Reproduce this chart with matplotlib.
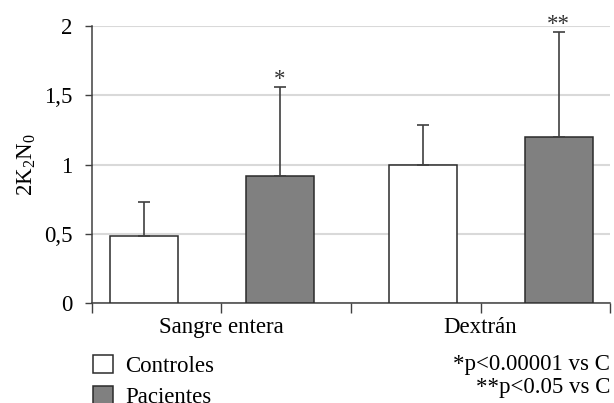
import numpy as np
import matplotlib.pyplot as plt
from matplotlib.patches import Patch

plt.rcParams['font.family'] = 'serif'
plt.rcParams['font.serif'] = ['Liberation Serif', 'DejaVu Serif']
plt.rcParams['mathtext.fontset'] = 'custom'
plt.rcParams['mathtext.rm'] = 'Liberation Serif'
plt.rcParams['mathtext.it'] = 'Liberation Serif'

# data
categories = ['Sangre entera', 'Dextrán']
series = ['Controles', 'Pacientes']
controles = [0.485, 1.0]
controles_err = [0.243, 0.287]
pacientes = [0.917, 1.198]
pacientes_err = [0.640, 0.757]
signif = ['*', '**']
notes = ['*p<0.00001 vs C', '**p<0.05 vs C']
yticks = [0, 0.5, 1, 1.5, 2]
ytick_labels = ['0', '0,5', '1', '1,5', '2']

fs = 16.5

fig = plt.figure(figsize=(6.14, 4.03), dpi=100)
ax = fig.add_axes([0.1498, 0.2474, 0.8437, 0.6888])

x = np.arange(len(categories))
w = 0.2435
edge = '#2b2b2b'
gray = '#808080'

ax.bar(x - w, controles, w, color='white', edgecolor=edge, linewidth=1.1, zorder=3)
ax.bar(x + w, pacientes, w, color=gray, edgecolor=edge, linewidth=1.1, zorder=3)
ax.errorbar(x - w, controles, yerr=[np.zeros(len(x)), controles_err], fmt='none',
            ecolor='#404040', elinewidth=1.2, capsize=4.3, capthick=1.2, zorder=4)
ax.errorbar(x + w, pacientes, yerr=[np.zeros(len(x)), pacientes_err], fmt='none',
            ecolor='#404040', elinewidth=1.2, capsize=4.3, capthick=1.2, zorder=4)

for xi, v, e, s in zip(x + w, pacientes, pacientes_err, signif):
    ax.annotate(s, (xi, v + e), xytext=(0, -2), textcoords='offset points',
                ha='center', va='bottom', fontsize=fs, color='#333333')

xmin, xmax = -0.4285, 1.4274
ax.set_xlim(xmin, xmax)
ax.set_ylim(0, 2)

ticks = np.linspace(xmin, xmax, 5)
ax.set_xticks(ticks)
ax.set_xticklabels(['', categories[0], '', categories[1], ''])
ax.tick_params(axis='x', direction='out', length=7, width=1, color='#404040', pad=3, labelsize=fs)

ax.set_yticks(yticks)
ax.set_yticklabels(ytick_labels)
ax.tick_params(axis='y', direction='out', length=5, width=1, color='#404040', pad=9, labelsize=fs)

ax.grid(axis='y', color='#d9d9d9', linewidth=1.5, zorder=0)
ax.set_axisbelow(True)
for sp in ['top', 'right']:
    ax.spines[sp].set_visible(False)
ax.spines['left'].set_color('#404040')
ax.spines['bottom'].set_color('#404040')
ax.spines['left'].set_linewidth(1.1)
ax.spines['bottom'].set_linewidth(1.1)

ax.set_ylabel('2K$_2$N$_0$', fontsize=fs, labelpad=4)

handles = [Patch(facecolor='white', edgecolor=edge, linewidth=1.1),
           Patch(facecolor=gray, edgecolor=edge, linewidth=1.1)]
fig.legend(handles, series, loc='upper left', bbox_to_anchor=(0.152, 0.12),
           frameon=False, fontsize=fs, handlelength=0.85, handleheight=0.85,
           handletextpad=0.55, labelspacing=0.42, borderaxespad=0, borderpad=0)

fig.text(0.9935, 1 - 370 / 403, notes[0], ha='right', va='baseline', fontsize=fs)
fig.text(0.9935, 1 - 393 / 403, notes[1], ha='right', va='baseline', fontsize=fs)

fig.savefig('out.png', dpi=100)
